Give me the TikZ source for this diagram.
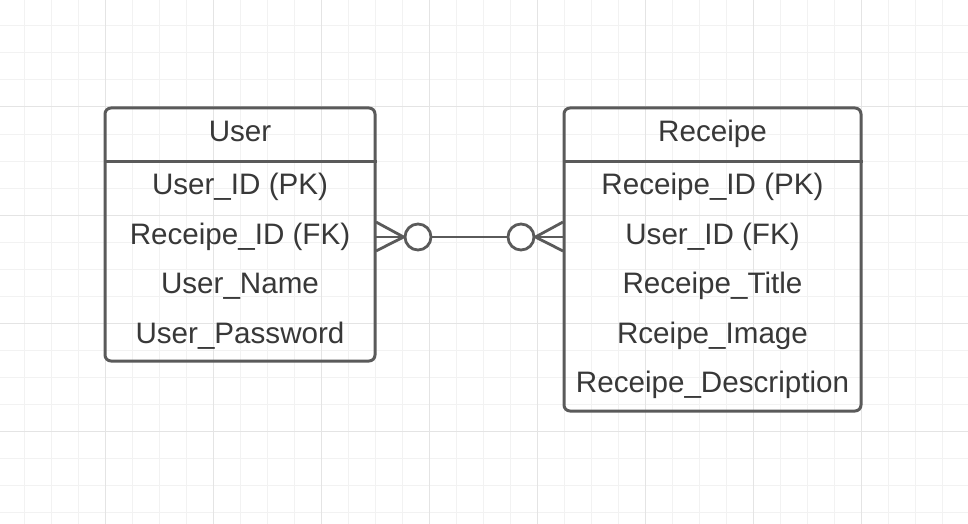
\documentclass[tikz,border=0pt]{standalone}
\usepackage{fontspec}
\setmainfont{Liberation Sans}
\usepackage{tikz}
\usetikzlibrary{positioning}
\definecolor{linegray}{HTML}{5A5A5A}
\definecolor{textgray}{HTML}{383838}
\definecolor{minorgrid}{HTML}{F2F2F2}
\definecolor{majorgrid}{HTML}{E4E4E4}
\tikzset{
  entity/.style={draw=linegray, line width=3pt, rounded corners=6pt, inner sep=0pt},
  field/.style={text=textgray, font=\fontsize{29.6}{35}\selectfont, inner sep=0pt, anchor=base},
  rel/.style={draw=linegray, line width=2.8pt},
  optional/.style={circle, draw=linegray, line width=2.8pt, fill=white, minimum size=26pt, inner sep=0pt}
}

\begin{document}
\begin{tikzpicture}[x=1pt, y=-1pt]
    \useasboundingbox (0,0) rectangle (968,524);
    \fill[white] (0,0) rectangle (968,524);
    % grid
    \foreach \gx in {24,51,...,968} \draw[minorgrid, line width=1pt] (\gx,0) -- (\gx,524);
    \foreach \gy in {26,53,...,524} \draw[minorgrid, line width=1pt] (0,\gy) -- (968,\gy);
    \foreach \gx in {105,213,...,968} \draw[majorgrid, line width=1pt] (\gx,0) -- (\gx,524);
    \foreach \gy in {107,215,...,524} \draw[majorgrid, line width=1pt] (0,\gy) -- (968,\gy);

    \node[entity, minimum width=270pt, minimum height=253pt] (user) at (240,234.5) {};
    \node[entity, minimum width=297pt, minimum height=303pt] (receipe) at (712.5,259.5) {};
    \draw[rel, line width=3pt] (user.west |- 0,161) -- (user.east |- 0,161);
    \draw[rel, line width=3pt] (receipe.west |- 0,161) -- (receipe.east |- 0,161);

    \node[field] (user-title) at (240,141) {User};
    \node[field] (user-pk) at (240,194) {User\_ID (PK)};
    \node[field] (user-fk) at (240,244) {Receipe\_ID (FK)};
    \node[field] (user-name) at (240,293.5) {User\_Name};
    \node[field] (user-pass) at (240,343) {User\_Password};

    \node[field] (rec-title) at (712.5,141) {Receipe};
    \node[field] (rec-pk) at (712.5,194) {Receipe\_ID (PK)};
    \node[field] (rec-fk) at (712.5,244) {User\_ID (FK)};
    \node[field] (rec-title2) at (712.5,293.5) {Receipe\_Title};
    \node[field] (rec-image) at (712.5,343) {Rceipe\_Image};
    \node[field] (rec-desc) at (712.5,392.5) {Receipe\_Description};

    % many-to-many, both optional
    \node[optional] (opt-left) at (418,237) {};
    \node[optional] (opt-right) at (521,237) {};
    \coordinate (foot-lu) at (376,222);
    \coordinate (foot-lm) at (376,237);
    \coordinate (foot-ld) at (376,251);
    \coordinate (foot-ru) at (563,222);
    \coordinate (foot-rm) at (563,237);
    \coordinate (foot-rd) at (563,251);
    \draw[rel] (opt-left) -- (opt-right);
    \draw[rel] (foot-lu) -- (opt-left.west) -- (foot-ld);
    \draw[rel] (foot-lm) -- (opt-left.west);
    \draw[rel] (foot-ru) -- (opt-right.east) -- (foot-rd);
    \draw[rel] (foot-rm) -- (opt-right.east);
\end{tikzpicture}
\end{document}
